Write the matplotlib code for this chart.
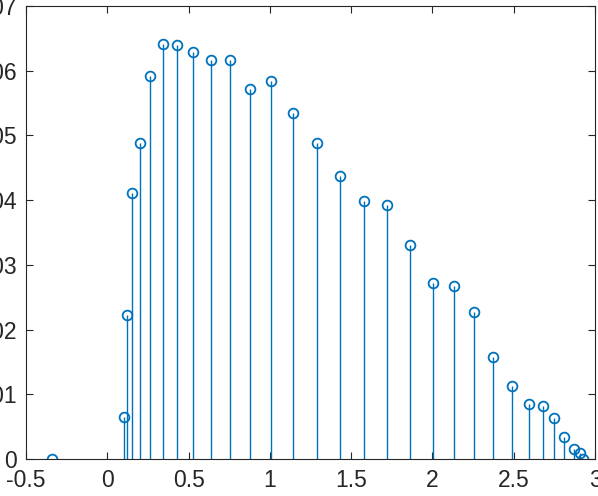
import matplotlib
matplotlib.use("Agg")
import matplotlib.pyplot as plt

plt.rcParams['font.family'] = ['Liberation Sans', 'DejaVu Sans']

# sample positions and values
x = [-0.337, 0.100, 0.123, 0.154, 0.203, 0.265, 0.340, 0.427, 0.525, 0.636,
     0.753, 0.880, 1.009, 1.145, 1.290, 1.434, 1.582, 1.723, 1.862, 2.002,
     2.133, 2.254, 2.371, 2.490, 2.591, 2.679, 2.749, 2.812, 2.870, 2.905,
     2.927]
y = [0.0, 0.00645, 0.0223, 0.0411, 0.0489, 0.0592, 0.0641, 0.0639, 0.0629, 0.0617,
     0.0617, 0.0572, 0.0584, 0.0534, 0.0488, 0.0437, 0.0398, 0.0392, 0.0330, 0.0272,
     0.0268, 0.0227, 0.0158, 0.0113, 0.00845, 0.00819, 0.00634, 0.00335, 0.00159, 0.00088,
     0.00005]

xticks = [-0.5, 0, 0.5, 1, 1.5, 2, 2.5, 3]
xticklabels = ['-0.5', '0', '0.5', '1', '1.5', '2', '2.5', '3']
yticks = [0, 0.01, 0.02, 0.03, 0.04, 0.05, 0.06, 0.07]
yticklabels = ['0', '0.01', '0.02', '0.03', '0.04', '0.05', '0.06', '0.07']

blue = '#0072BD'
axcol = '#262626'

fig = plt.figure(figsize=(5.98, 4.96), dpi=100)
ax = fig.add_axes([26/598, 37/496, 569/598, 453/496])

markers, stems, base = ax.stem(x, y, linefmt='-', markerfmt='o', basefmt=' ')
plt.setp(stems, color=blue, linewidth=1.0)
plt.setp(markers, markerfacecolor='none', markeredgecolor=blue, markersize=7, markeredgewidth=1.3)

ax.set_xlim(-0.5, 3)
ax.set_ylim(0, 0.07)
ax.set_xticks(xticks)
ax.set_xticklabels(xticklabels)
ax.set_yticks(yticks)
ax.set_yticklabels(yticklabels)

for s in ax.spines.values():
    s.set_color(axcol)
    s.set_linewidth(0.8)
ax.tick_params(direction='in', top=True, right=True, length=5, width=0.8,
               color=axcol, labelcolor=axcol, labelsize=16.5)
ax.tick_params(axis='x', pad=7.5)
ax.tick_params(axis='y', pad=6.5)

fig.savefig('out.png', dpi=100)
